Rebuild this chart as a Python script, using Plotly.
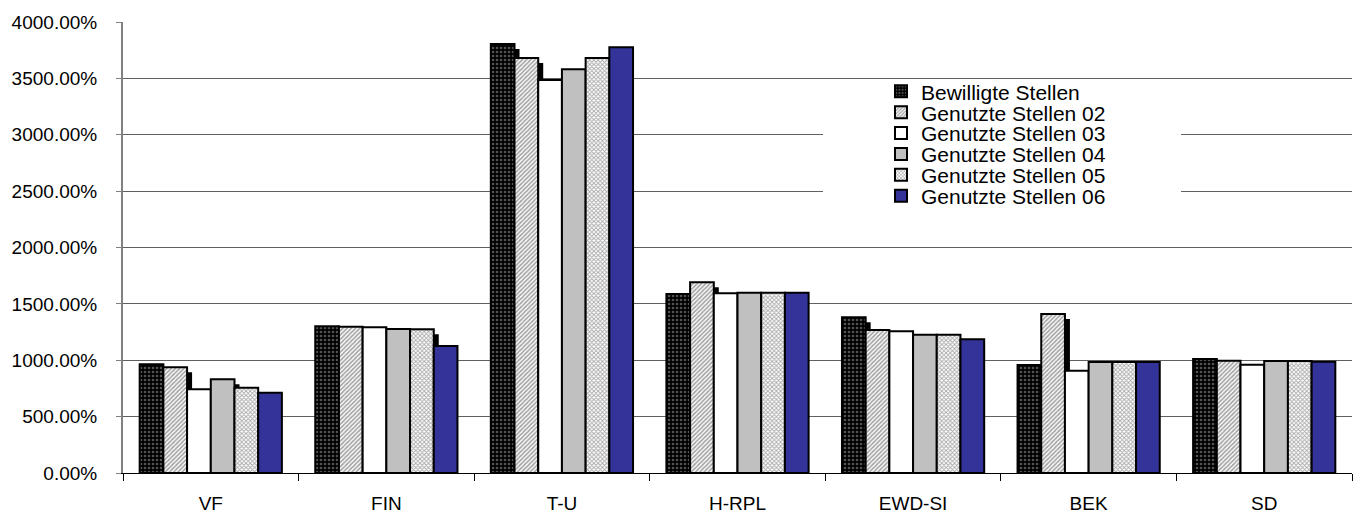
import plotly.graph_objects as go

categories = ["VF", "FIN", "T-U", "H-RPL", "EWD-SI", "BEK", "SD"]
series_names = [
    "Bewilligte Stellen",
    "Genutzte Stellen 02",
    "Genutzte Stellen 03",
    "Genutzte Stellen 04",
    "Genutzte Stellen 05",
    "Genutzte Stellen 06",
]
# values in percent
bewilligte = [965, 1302, 3805, 1588, 1381, 958, 1011]
genutzt_02 = [937, 1298, 3681, 1691, 1268, 1410, 996]
genutzt_03 = [742, 1292, 3486, 1594, 1257, 907, 961]
genutzt_04 = [831, 1277, 3580, 1599, 1227, 984, 993]
genutzt_05 = [757, 1274, 3681, 1599, 1227, 984, 993]
genutzt_06 = [712, 1126, 3776, 1599, 1186, 984, 987]
series_values = [bewilligte, genutzt_02, genutzt_03, genutzt_04, genutzt_05, genutzt_06]
y_tick_values = [0, 500, 1000, 1500, 2000, 2500, 3000, 3500, 4000]
y_tick_text = [f"{v:.2f}%" for v in y_tick_values]

# styles
styles = [
    dict(color="black", pattern=dict(shape=".", bgcolor="black", fgcolor="#a8a8a8", size=4, solidity=0.35)),
    dict(color="white", pattern=dict(shape="/", bgcolor="white", fgcolor="#484848", size=3, solidity=0.55)),
    dict(color="white"),
    dict(color="#c0c0c0"),
    dict(color="white", pattern=dict(shape="x", bgcolor="white", fgcolor="#505050", size=3, solidity=0.5)),
    dict(color="#333399"),
]

FONT = "Liberation Sans, Arial, sans-serif"
L, R, T, B = 123, 8, 22, 40
W, H = 1360, 513
PW, PH = W - L - R, H - T - B

n = len(series_names)
group = 0.81
bw = group / n
cat_px = PW / len(categories)
shadow_dx = 5 / cat_px
shadow_dy = 5 * 4000 / PH

fig = go.Figure()

# shadows (drawn first, behind all bars)
for i in range(n - 1):
    fig.add_trace(go.Bar(
        x=categories, y=[v - shadow_dy for v in series_values[i]],
        width=bw, offset=-group / 2 + i * bw + shadow_dx,
        marker=dict(color="black", line=dict(width=0)),
        showlegend=False, hoverinfo="skip",
    ))

legend_rows_px = [91.7, 112.7, 133.3, 154.3, 175.0, 196.0]
legend_x_px = 881
layout_legends = {}
for i, (name, vals) in enumerate(zip(series_names, series_values)):
    key = "legend" if i == 0 else f"legend{i + 1}"
    fig.add_trace(go.Bar(
        x=categories, y=vals, name=name,
        width=bw, offset=-group / 2 + i * bw,
        marker=dict(line=dict(color="black", width=2), **styles[i]),
        legend=key,
    ))
    layout_legends[key] = dict(
        x=(legend_x_px - L) / PW, y=(H - B - legend_rows_px[i]) / PH,
        xanchor="left", yanchor="middle",
        bgcolor="rgba(0,0,0,0)", borderwidth=0,
        font=dict(family=FONT, size=21, color="black"),
        itemclick=False, itemdoubleclick=False,
    )

# white box behind legend, covering gridlines
fig.add_shape(
    type="rect", xref="paper", yref="paper",
    x0=(823 - L) / PW, x1=(1181 - L) / PW,
    y0=(H - B - 215) / PH, y1=(H - B - 80) / PH,
    fillcolor="white", line=dict(width=0), layer="above",
)

fig.update_layout(
    width=W, height=H,
    margin=dict(l=L, r=R, t=T, b=B, pad=0, autoexpand=False),
    paper_bgcolor="white", plot_bgcolor="white",
    barmode="overlay",
    font=dict(family=FONT, size=19, color="black"),
    **layout_legends,
)
fig.update_xaxes(
    type="category", range=[-0.5, len(categories) - 0.5],
    showline=True, linecolor="black", linewidth=1,
    ticks="outside", tickson="boundaries", ticklen=7, tickcolor="black",
    showgrid=False, tickfont=dict(family=FONT, size=19, color="black"),
    ticklabelstandoff=13, automargin=False,
)
fig.update_yaxes(
    range=[0, 4000], tickvals=y_tick_values, ticktext=y_tick_text,
    showline=True, linecolor="#808080", linewidth=2,
    ticks="outside", ticklen=5, tickcolor="#808080",
    showgrid=True, gridcolor="#606060", gridwidth=1,
    zeroline=False, tickfont=dict(family=FONT, size=19, color="black"),
    ticklabelstandoff=15, automargin=False,
)

fig.write_html(
    "out.html",
    config={"displayModeBar": False},
    post_script="document.body.style.margin='0';document.body.style.overflow='hidden';",
)
